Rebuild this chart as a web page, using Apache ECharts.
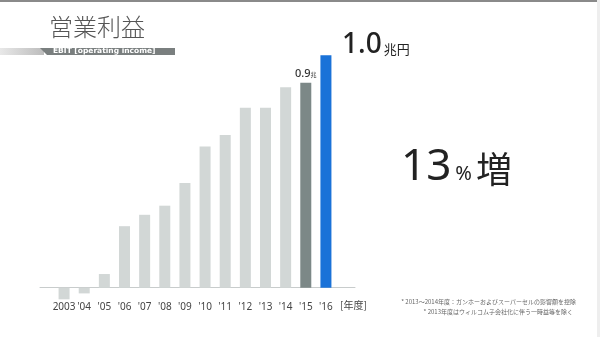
<!DOCTYPE html>
<html><head><meta charset="utf-8">
<script src="https://cdn.jsdelivr.net/npm/echarts@6/dist/echarts.min.js"></script>
<style>html,body{margin:0;padding:0;background:#fff}#c{width:600px;height:337px}</style>
</head><body><div id="c"></div>
<script>
const categories = ['2003', "'04", "'05", "'06", "'07", "'08", "'09", "'10", "'11", "'12", "'13", "'14", "'15", "'16"];
// operating income (EBIT), trillion yen
const ebit = [-0.051, -0.025, 0.06, 0.27, 0.32, 0.36, 0.46, 0.62, 0.67, 0.79, 0.79, 0.88, 0.90, 1.02];
const barColors = ['#d2d7d6', '#d2d7d6', '#d2d7d6', '#d2d7d6', '#d2d7d6', '#d2d7d6', '#d2d7d6', '#d2d7d6', '#d2d7d6', '#d2d7d6', '#d2d7d6', '#d2d7d6', '#7c8887', '#1a72d8'];
const labelIndex = 12;
const labelText = '0.9';
const yMin = 0, yMax = 1.1;

const chart = echarts.init(document.getElementById('c'), null, {renderer: 'canvas'});
const FONT = '"Noto Sans", "Noto Sans CJK JP", sans-serif';
const gridTop = 37.1, gridBottom = 49.3;
chart.setOption({
  animation: false,
  backgroundColor: '#ffffff',
  grid: [
    {left: 54, right: 264, top: gridTop, bottom: gridBottom, containLabel: false, outerBoundsMode: 'none'},
    {left: 40, right: 245, top: gridTop, bottom: gridBottom, containLabel: false, outerBoundsMode: 'none'}
  ],
  xAxis: [
    {type: 'category', gridIndex: 0, data: categories,
     axisLine: {show: false}, axisTick: {show: false},
     axisLabel: {color: '#444', fontSize: 10, fontFamily: FONT, margin: 14, interval: 0}},
    {type: 'value', gridIndex: 1, min: 0, max: 1,
     axisLine: {show: true, lineStyle: {color: '#c8cccc', width: 1}},
     axisTick: {show: false}, axisLabel: {show: false}, splitLine: {show: false}}
  ],
  yAxis: [
    {type: 'value', gridIndex: 0, min: yMin, max: yMax, show: false, splitLine: {show: false}},
    {type: 'value', gridIndex: 1, min: yMin, max: yMax, show: false, splitLine: {show: false}}
  ],
  series: [{
    type: 'bar', xAxisIndex: 0, yAxisIndex: 0, barWidth: 11, clip: false,
    data: ebit.map((v, i) => ({
      value: v,
      itemStyle: {color: barColors[i]},
      label: i === labelIndex ? {
        show: true, position: 'top', distance: 3,
        formatter: '{a|' + labelText + '}{b|兆}',
        rich: {
          a: {fontSize: 11, color: '#333', fontFamily: FONT, fontWeight: 500},
          b: {fontSize: 6, color: '#333', fontFamily: FONT, padding: [2, 0, 0, 0]}
        }
      } : {show: false}
    }))
  }],
  graphic: [
    {type: 'rect', shape: {x: 0, y: 0, width: 600, height: 2}, style: {fill: '#8a8a8a'}},
    {type: 'rect', shape: {x: 597, y: 0, width: 3, height: 337}, style: {fill: '#eeeeee'}},
    {type: 'text', left: 49, top: 15, style: {text: '営業利益', fontSize: 24, fill: '#555', fontFamily: '"Noto Sans CJK JP"', fontWeight: 300}},
    {type: 'rect', shape: {x: 0, y: 48, width: 44, height: 7}, style: {fill: new echarts.graphic.LinearGradient(0, 0, 1, 0, [{offset: 0, color: '#e8e8e8'}, {offset: 1, color: '#bcbcbc'}])}},
    {type: 'polygon', shape: {points: [[40, 48], [175, 48], [175, 55], [47, 55]]}, style: {fill: '#7a7f7f'}},
    {type: 'text', left: 53, top: 47.5, style: {text: 'EBIT [operating income]', fontSize: 7.5, fill: '#fff', fontFamily: '"DejaVu Sans"', fontWeight: 'bold', letterSpacing: 1.1}},
    {type: 'text', left: 340, top: 300, style: {text: '[年度]', fontSize: 10, fill: '#444', fontFamily: '"Noto Sans CJK JP"'}},
    {type: 'text', left: 342, top: 31, style: {text: '{a|1.0}{b|兆円}', rich: {
      a: {fontSize: 28, fill: '#222', fontFamily: FONT, fontWeight: 500},
      b: {fontSize: 13, fill: '#222', fontFamily: '"Noto Sans CJK JP"', padding: [8, 0, 0, 2]}
    }}},
    {type: 'text', left: 401, top: 145, style: {text: '{a|13}{b|%}{c|増}', rich: {
      a: {fontSize: 44, fill: '#222', fontFamily: FONT, fontWeight: 400},
      b: {fontSize: 20, fill: '#222', fontFamily: FONT, padding: [14, 4, 0, 4]},
      c: {fontSize: 36, fill: '#222', fontFamily: '"Noto Sans CJK JP"', padding: [4, 0, 0, 0]}
    }}},
    {type: 'text', right: 24, top: 299, style: {text: '* 2013～2014年度：ガンホーおよびスーパーセルの影響額を控除', fontSize: 6, fill: '#666', fontFamily: '"Noto Sans CJK JP"', align: 'right'}},
    {type: 'text', right: 27, top: 309, style: {text: '* 2013年度はウィルコム子会社化に伴う一時益等を除く', fontSize: 6, fill: '#666', fontFamily: '"Noto Sans CJK JP"', align: 'right'}}
  ]
});
</script></body></html>
